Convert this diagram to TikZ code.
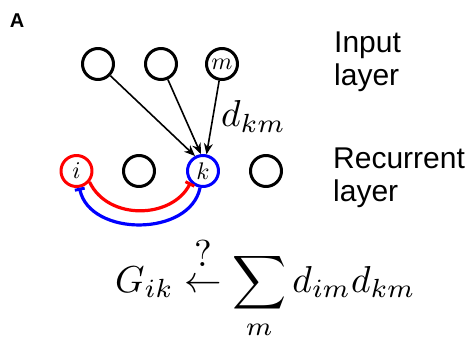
\documentclass[tikz,border=0pt]{standalone}
\usepackage{amsmath}
\usepackage{graphicx}
\usepackage{fontspec}
\setsansfont{Liberation Sans}
\usetikzlibrary{arrows.meta}
\newcommand{\bigmath}[1]{\scalebox{3.75}{#1}}
\newcommand{\cellname}[1]{\scalebox{2.4}{$#1$}}

\begin{document}
\begin{tikzpicture}[x=1pt, y=-1pt, line join=round,
  neuron/.style={circle, draw, line width=3pt, minimum size=31pt, inner sep=0pt},
  feed/.style={line width=1.6pt, -{Stealth[length=11pt,width=9pt]}},
  inhib/.style={line width=3.2pt, -{Bar[width=10pt,line width=3pt]}},
  layertext/.style={font=\sffamily\fontsize{30}{33}\selectfont, align=left, inner sep=0pt, anchor=west},
  formula/.style={font=\normalsize, inner sep=0pt, anchor=base west}]
  \useasboundingbox (0,0) rectangle (472,337); % same box as the reference

  \node[font=\sffamily\bfseries\fontsize{20}{20}\selectfont] (panel) at (17,21) {A};

  % --- input layer ---
  \node[neuron] (in1) at (98,64)  {};
  \node[neuron] (in2) at (161,64) {};
  \node[neuron] (inm) at (222,64) {\cellname{m}};

  % --- recurrent layer ---
  \node[neuron, red]  (i)  at (76.5,171) {\textcolor{black}{\cellname{i}}};
  \node[neuron]       (r2) at (139,171)  {};
  \node[neuron, blue] (k)  at (203,171)  {\textcolor{black}{\cellname{k}}};
  \node[neuron]       (r4) at (266,171)  {};

  \foreach \s/\a in {in1/118, in2/97, inm/78}
     \draw[feed] (\s) -- (k.\a);
  \node[formula] (dkm) at (221,127) {\bigmath{$d_{km}$}};

  % --- i <-> k, crossed inhibitory links ---
  \draw[inhib, blue] (k.-100) .. controls (190,237) and (90,237) .. (i.-80);
  \draw[inhib, red]  (i.-40)  .. controls (108,221) and (172,219) .. (k.-137);

  \node[layertext] (inlab)  at (334,62)  {Input\\layer};
  \node[layertext] (reclab) at (333,178) {Recurrent\\layer};

  \node[formula] (rule) at (115,292)
     {\bigmath{$\displaystyle G_{ik}\mathrel{\overset{\raisebox{1pt}{$\textstyle ?$}}{\leftarrow}}\sum_m d_{im}d_{km}$}};
\end{tikzpicture}
\end{document}
